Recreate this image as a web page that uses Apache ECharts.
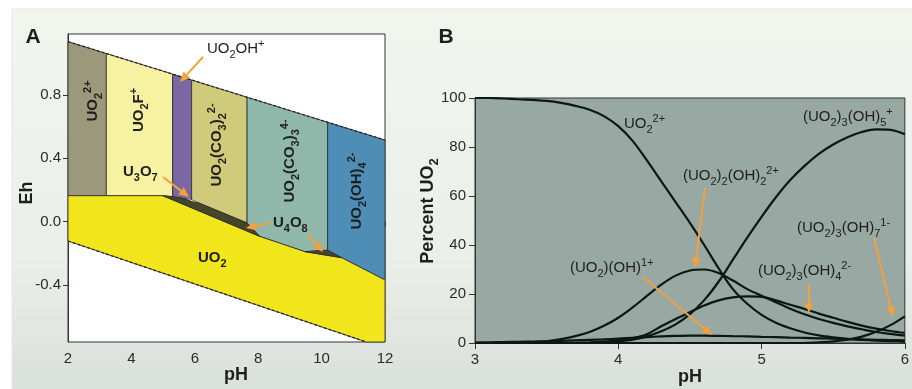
<!DOCTYPE html>
<html>
<head>
<meta charset="utf-8">
<script src="https://cdn.jsdelivr.net/npm/echarts@6/dist/echarts.min.js"></script>
<style>
  html, body { margin: 0; padding: 0; background: #fff; }
  #chart { width: 912px; height: 389px; }
</style>
</head>
<body>
<div id="chart"></div>
<script>
// ---- panel A: Eh-pH diagram, vertices as [pH, Eh] ----
const waterUpper = [[2, 1.136], [12, 0.515]]
const waterLower = [[2, -0.122], [11.41, -0.759]]

const regUO2Ion = [[2, 1.136], [3.21, 1.061], [3.21, 0.164], [2, 0.164]]
const regUO2F = [[3.21, 1.061], [5.30, 0.931], [5.30, 0.158], [4.99, 0.164], [3.21, 0.164]]
const regUO2OH = [[5.30, 0.931], [5.90, 0.894], [5.90, 0.137], [5.30, 0.158]]
const regCO3di = [[5.90, 0.894], [7.65, 0.785], [7.65, -0.008], [5.90, 0.137]]
const regCO3tri = [[7.65, 0.785], [10.19, 0.627], [10.19, -0.18], [9.47, -0.189], [8.05, -0.093], [7.65, -0.008]]
const regOH4 = [[10.19, 0.627], [12, 0.515], [12, -0.368], [10.63, -0.227], [10.19, -0.18]]
const regUO2 = [[2, 0.164], [4.99, 0.164], [8.05, -0.093], [9.47, -0.189], [10.63, -0.227], [12, -0.368], [12, -0.759], [11.41, -0.759], [2, -0.122]]
const regU3O7 = [[4.99, 0.164], [5.30, 0.158], [5.90, 0.137], [7.65, -0.008], [8.05, -0.093]]
const regU4O8 = [[9.47, -0.189], [10.19, -0.18], [10.63, -0.227]]
const regGap = [[5.70, 0.150], [5.90, 0.137], [6.10, 0.122], [5.90, 0.131]]

const ehTicks = [-0.4, 0, 0.4, 0.8]

// ---- panel B: speciation, percent UO2 vs pH ----
const phB = [3.0, 3.1, 3.2, 3.3, 3.4, 3.5, 3.6, 3.7, 3.8, 3.9, 4.0, 4.1, 4.2, 4.3, 4.4, 4.5,
  4.6, 4.7, 4.8, 4.9, 5.0, 5.1, 5.2, 5.3, 5.4, 5.5, 5.6, 5.7, 5.8, 5.9, 6.0]
const uo2Ion = [100, 100, 99.8, 99.5, 99.2, 98.8, 98, 96.8, 95.2, 92.6, 88.5, 82.5, 74.5, 66, 57.5, 49,
  40, 30.5, 22, 16, 11.5, 8.3, 6, 4.3, 3.1, 2.3, 1.7, 1.3, 1, 0.8, 0.6]
const uo2oh = [0.2, 0.3, 0.4, 0.5, 0.6, 0.7, 0.9, 1.1, 1.3, 1.5, 1.8, 2.1, 2.4, 2.7, 2.9, 3.0,
  3.0, 2.9, 2.8, 2.7, 2.5, 2.4, 2.2, 2.1, 1.9, 1.8, 1.6, 1.5, 1.3, 1.2, 1.1]
const u2oh2 = [0, 0, 0, 0.1, 0.3, 0.7, 1.6, 2.8, 4.5, 7, 10.3, 14.5, 19.2, 23.8, 27.5, 29.6,
  30, 28.6, 25.5, 22, 19.3, 16.6, 14, 11.7, 9.8, 8.2, 6.8, 5.6, 4.5, 3.7, 3]
const u3oh4 = [0, 0, 0, 0, 0, 0, 0, 0.1, 0.3, 0.6, 1.1, 2, 3.6, 6.8, 9.8, 12.6,
  15.3, 17.4, 18.6, 19, 18.8, 17.4, 15.6, 13.9, 12, 10.3, 8.6, 7.1, 5.9, 4.9, 4.1]
const u3oh5 = [0, 0, 0, 0, 0, 0, 0, 0, 0, 0.3, 0.7, 1.4, 2.7, 4.8, 7.6, 11.8,
  17.5, 25, 34, 43, 51.5, 59.5, 66.5, 72.3, 77.2, 81, 84, 86.1, 87.2, 87, 85.2]
const u3oh7 = [0, 0, 0, 0, 0, 0, 0, 0, 0, 0, 0, 0, 0, 0, 0, 0,
  0, 0, 0, 0, 0, 0, 0, 0, 0.3, 0.7, 1.4, 2.6, 4.6, 7.3, 10.9]

const FONT = '"Liberation Sans", Arial, sans-serif'
const ORANGE = '#f2a23c'
const INK = '#1e1e1e'

const regionSeries = (points, fill, stroke) => ({
  type: 'custom',
  xAxisIndex: 0,
  yAxisIndex: 0,
  data: points,
  encode: { x: 0, y: 1 },
  silent: true,
  renderItem: (params, api) => {
    if (params.dataIndex !== 0) return null
    return {
      type: 'polygon',
      shape: { points: points.map((p) => api.coord(p)) },
      style: { fill: fill, stroke: stroke || '#2b2b2b', lineWidth: stroke === 'none' ? 0 : 0.8 }
    }
  }
})

const curve = (values) => ({
  type: 'line',
  xAxisIndex: 1,
  yAxisIndex: 1,
  data: phB.map((p, i) => [p, values[i]]),
  smooth: 0.35,
  symbol: 'none',
  silent: true,
  lineStyle: { color: '#0c1713', width: 2.2 }
})

const richSet = (size, weight) => {
  const sub = Math.round(size * 0.7)
  const lh = size + 7
  return {
    n: { font: `${weight} ${size}px ${FONT}`, lineHeight: lh },
    b: { font: `${weight} ${sub}px ${FONT}`, verticalAlign: 'bottom' },
    p: { font: `${weight} ${sub}px ${FONT}`, verticalAlign: 'top' }
  }
}

const label = (x, y, text, opt = {}) => {
  const size = opt.size || 15
  const weight = opt.weight || 'bold'
  const align = opt.align || 'center'
  return {
    type: 'text',
    x: x,
    y: y,
    rotation: opt.rot ? Math.PI / 2 : 0,
    z: 50,
    silent: true,
    style: {
      text: text,
      fill: opt.fill || INK,
      font: `${weight} ${size}px ${FONT}`,
      rich: richSet(size, weight),
      align: align,
      textAlign: align,
      verticalAlign: 'middle',
      textVerticalAlign: 'middle'
    }
  }
}

// orange pointer, line plus head, drawn above the series
const arrow = (x1, y1, x2, y2) => {
  const a = Math.atan2(y2 - y1, x2 - x1)
  const len = 10
  const w = 4.5
  const bx = x2 - len * Math.cos(a)
  const by = y2 - len * Math.sin(a)
  const nx = -Math.sin(a) * w
  const ny = Math.cos(a) * w
  return {
    type: 'group',
    silent: true,
    children: [
      { type: 'line', z: 60, shape: { x1: x1, y1: y1, x2: bx, y2: by }, style: { stroke: ORANGE, lineWidth: 2 } },
      { type: 'polygon', z: 60, shape: { points: [[x2, y2], [bx + nx, by + ny], [bx - nx, by - ny]] }, style: { fill: ORANGE } }
    ]
  }
}

const chart = echarts.init(document.getElementById('chart'), null, { renderer: 'canvas' })

const axisText = { color: '#2a2a2a', fontSize: 15, fontFamily: FONT }

const option = {
  animation: false,
  graphic: [
    {
      type: 'rect',
      z: -10,
      silent: true,
      shape: { x: 12, y: 9, width: 902, height: 382 },
      style: {
        fill: new echarts.graphic.LinearGradient(0, 0, 0, 1, [
          { offset: 0, color: '#f1f5ee' },
          { offset: 0.65, color: '#ebefea' },
          { offset: 1, color: '#d9dfda' }
        ]),
        stroke: '#e2eadc'
      }
    },
    label(33, 37, 'A', { size: 21 }),
    label(446, 37, 'B', { size: 21 }),
    label(27, 193, 'Eh', { size: 18, rot: true }),
    label(236, 375, 'pH', { size: 18 }),
    label(690, 377, 'pH', { size: 18 }),
    label(428, 211, '{n|Percent UO}{b|2}', { size: 18, rot: true }),

    // panel A region names
    label(93, 101, '{n|UO}{b|2}{p|2+}', { rot: true }),
    label(139, 110, '{n|UO}{b|2}{n|F}{p|+}', { rot: true }),
    label(217, 145, '{n|UO}{b|2}{n|(CO}{b|3}{n|)}{b|2}{p|2-}', { rot: true }),
    label(290, 161, '{n|UO}{b|2}{n|(CO}{b|3}{n|)}{b|3}{p|4-}', { rot: true }),
    label(357, 191, '{n|UO}{b|2}{n|(OH)}{b|4}{p|2-}', { rot: true }),
    label(123, 172, '{n|U}{b|3}{n|O}{b|7}', { align: 'left' }),
    label(273, 223, '{n|U}{b|4}{n|O}{b|8}', { align: 'left' }),
    label(198, 258, '{n|UO}{b|2}', { align: 'left' }),
    label(207, 49, '{n|UO}{b|2}{n|OH}{p|+}', { align: 'left', weight: 'normal' }),
    arrow(203, 57, 180, 82),
    arrow(163, 177, 189, 197),
    arrow(271, 223, 246, 228),
    arrow(308, 235, 323, 252),

    // panel B species names
    label(624, 124, '{n|UO}{b|2}{p|2+}', { align: 'left', weight: 'normal' }),
    label(803, 117, '{n|(UO}{b|2}{n|)}{b|3}{n|(OH)}{b|5}{p|+}', { align: 'left', weight: 'normal' }),
    label(683, 176, '{n|(UO}{b|2}{n|)}{b|2}{n|(OH)}{b|2}{p|2+}', { align: 'left', weight: 'normal' }),
    label(570, 268, '{n|(UO}{b|2}{n|)(OH)}{p|1+}', { align: 'left', weight: 'normal' }),
    label(758, 271, '{n|(UO}{b|2}{n|)}{b|3}{n|(OH)}{b|4}{p|2-}', { align: 'left', weight: 'normal' }),
    label(797, 228, '{n|(UO}{b|2}{n|)}{b|3}{n|(OH)}{b|7}{p|1-}', { align: 'left', weight: 'normal' }),
    arrow(705, 188, 695, 268),
    arrow(643, 277, 712, 335),
    arrow(809, 285, 809, 313),
    arrow(874, 238, 893, 317)
  ],
  grid: [
    { left: 68, top: 34, width: 317, height: 308, show: true, backgroundColor: '#ffffff', borderColor: '#333', borderWidth: 1 },
    { left: 475, top: 98, width: 431, height: 245, show: true, backgroundColor: '#97a9a2', borderColor: '#333', borderWidth: 1 }
  ],
  xAxis: [
    {
      gridIndex: 0, type: 'value', min: 2, max: 12, interval: 2,
      axisLine: { lineStyle: { color: '#333' } },
      axisTick: { length: 5, lineStyle: { color: '#333' } },
      axisLabel: { ...axisText, margin: 9 },
      splitLine: { show: false }
    },
    {
      gridIndex: 1, type: 'value', min: 3, max: 6, interval: 1,
      axisLine: { lineStyle: { color: '#333' } },
      axisTick: { length: 6, lineStyle: { color: '#333' } },
      axisLabel: { ...axisText, margin: 9 },
      splitLine: { show: false }
    }
  ],
  yAxis: [
    {
      gridIndex: 0, type: 'value', min: -0.759, max: 1.184,
      axisLine: { show: true, lineStyle: { color: '#333' } },
      axisTick: { show: true, length: 5, customValues: ehTicks, lineStyle: { color: '#333' } },
      axisLabel: { ...axisText, margin: 7, customValues: ehTicks, formatter: (v) => v.toFixed(1) },
      splitLine: { show: false }
    },
    {
      gridIndex: 1, type: 'value', min: 0, max: 100, interval: 20,
      axisLine: { show: true, lineStyle: { color: '#333' } },
      axisTick: { show: true, length: 6, lineStyle: { color: '#333' } },
      axisLabel: { ...axisText, margin: 9 },
      splitLine: { show: false }
    }
  ],
  series: [
    regionSeries(regUO2Ion, '#9c987c'),
    regionSeries(regUO2F, '#f6f2a2'),
    regionSeries(regUO2OH, '#7a67a4'),
    regionSeries(regCO3di, '#cfcb7a'),
    regionSeries(regCO3tri, '#8fb8aa'),
    regionSeries(regOH4, '#4e8db5'),
    regionSeries(regUO2, '#f1e51c'),
    regionSeries(regU3O7, '#45452a'),
    regionSeries(regU4O8, '#45452a'),
    regionSeries(regGap, '#f2f2ea', 'none'),
    {
      type: 'line', xAxisIndex: 0, yAxisIndex: 0, data: waterUpper, symbol: 'none', silent: true,
      lineStyle: { color: '#222', width: 1.2, type: [3, 2] }
    },
    {
      type: 'line', xAxisIndex: 0, yAxisIndex: 0, data: waterLower, symbol: 'none', silent: true,
      lineStyle: { color: '#222', width: 1.2, type: [3, 2] }
    },
    curve(uo2Ion),
    curve(uo2oh),
    curve(u2oh2),
    curve(u3oh4),
    curve(u3oh5),
    curve(u3oh7)
  ]
}

chart.setOption(option)
</script>
</body>
</html>
